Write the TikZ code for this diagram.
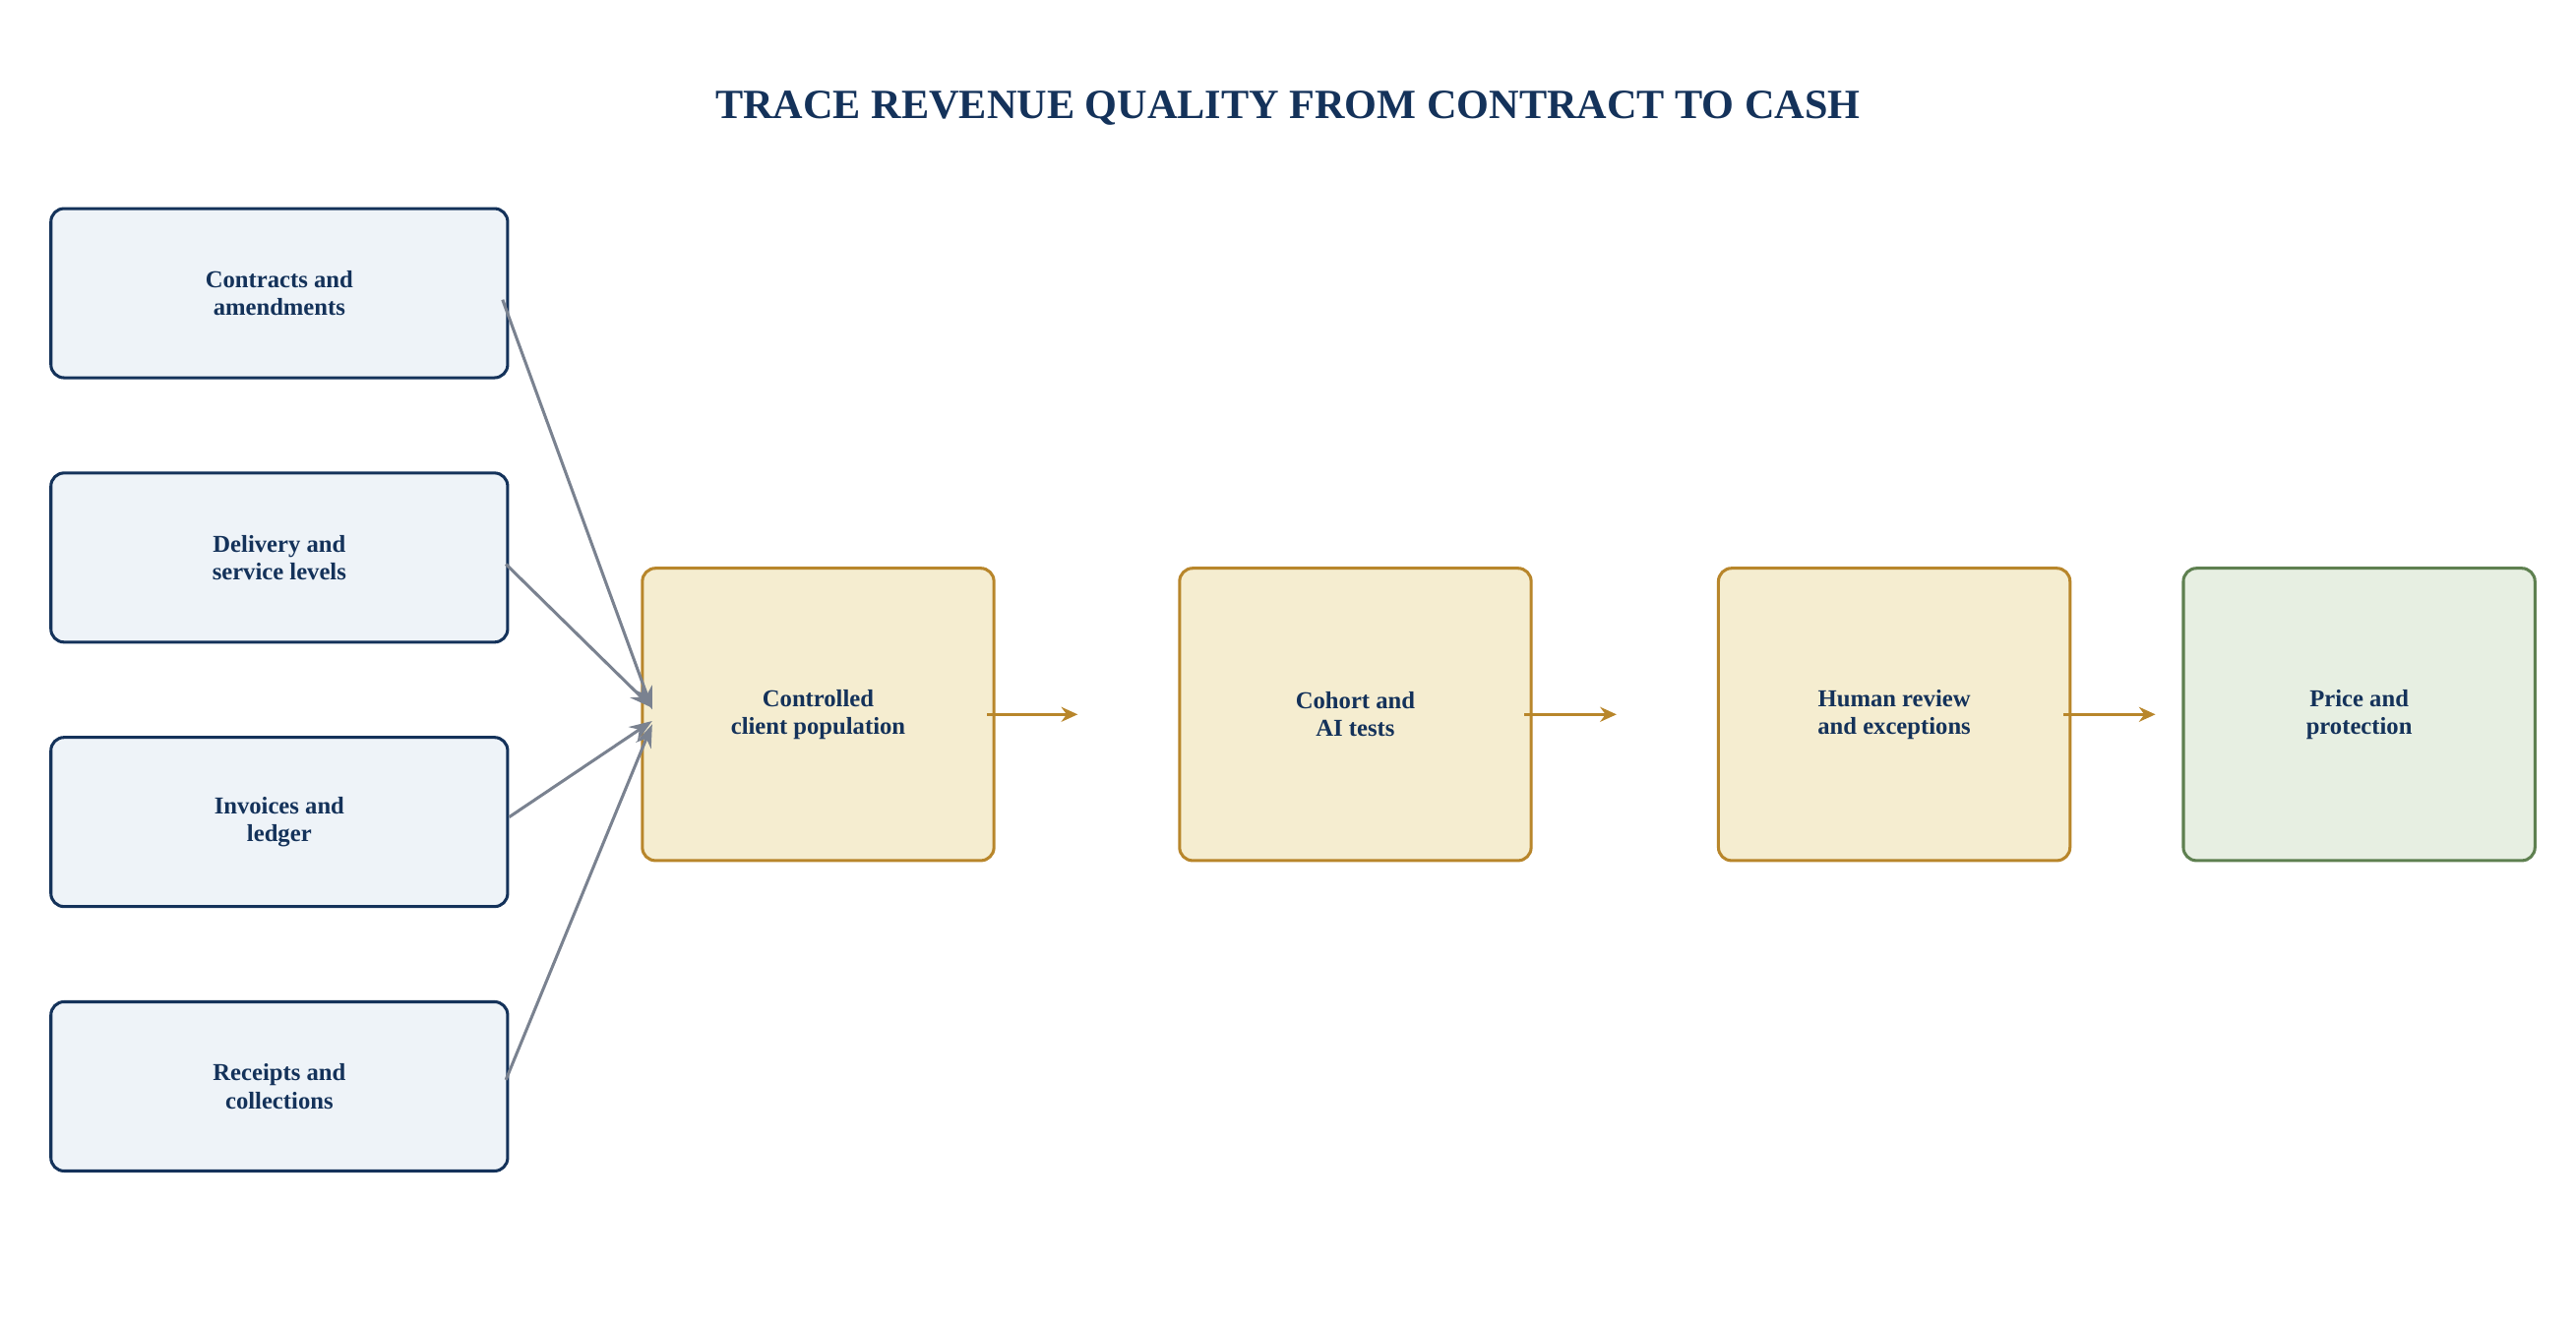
\documentclass[tikz,border=0pt]{standalone}
\usepackage{fontspec}
\setmainfont{Liberation Serif}
\usetikzlibrary{calc,arrows.meta}
\definecolor{navy}{HTML}{14325A}
\definecolor{navyfill}{HTML}{EEF3F8}
\definecolor{gold}{HTML}{B8862B}
\definecolor{goldfill}{HTML}{F5EDD0}
\definecolor{grn}{HTML}{5E8050}
\definecolor{grnfill}{HTML}{E7EFE2}
\definecolor{arrgray}{HTML}{7A8290}
\begin{document}
\begin{tikzpicture}[x=0.5mm,y=-0.5mm,
  box/.style={draw, line width=2.6pt, rounded corners=4mm, align=center, inner sep=0pt,
    font=\fontsize{21}{24}\selectfont\bfseries, text=navy},
  src/.style={box, draw=navy, fill=navyfill, minimum width=139mm, minimum height=51.5mm},
  stg/.style={box, draw=gold, fill=goldfill, minimum width=107mm, minimum height=89mm},
  fin/.style={box, draw=grn, fill=grnfill, minimum width=107mm, minimum height=89mm},
  gin/.style={draw=arrgray, line width=2.6pt, -{Stealth[length=7mm,width=5mm]}},
  gout/.style={draw=gold, line width=2.6pt, -{Stealth[length=5mm,width=4.5mm]}}]
\useasboundingbox (0,0) rectangle (1568,804);
\node[font=\fontsize{36}{40}\selectfont\bfseries, text=navy] (title) at (784,66) {TRACE REVENUE QUALITY FROM CONTRACT TO CASH};
\node[src] (s1) at (170,178.5) {Contracts and\\amendments};
\node[src] (s2) at (170,339.5) {Delivery and\\service levels};
\node[src] (s3) at (170,500.5) {Invoices and\\ledger};
\node[src] (s4) at (170,661.5) {Receipts and\\collections};
\node[stg] (p1) at (498,435) {Controlled\\client population};
\node[stg] (p2) at (825,435) {Cohort and\\AI tests};
\node[stg] (p3) at (1153,435) {Human review\\and exceptions};
\node[fin] (p4) at (1436,435) {Price and\\protection};
\coordinate (m1) at (397,432);
\coordinate (m2) at (397,431);
\coordinate (m3) at (397,439);
\coordinate (m4) at (397,441);
\draw[gin] ($(s1.east)+(-4,4)$) -- (m1);
\draw[gin] ($(s2.east)+(-2,4)$) -- (m2);
\draw[gin] ($(s3.east)+(0,-3)$) -- (m3);
\draw[gin] ($(s4.east)+(-2,-4)$) -- (m4);
\coordinate (e1) at (656,435);
\coordinate (e2) at (984,435);
\coordinate (e3) at (1312,435);
\draw[gout] ($(p1.east)+(-5,0)$) -- (e1);
\draw[gout] ($(p2.east)+(-5,0)$) -- (e2);
\draw[gout] ($(p3.east)+(-5,0)$) -- (e3);
\end{tikzpicture}
\end{document}
